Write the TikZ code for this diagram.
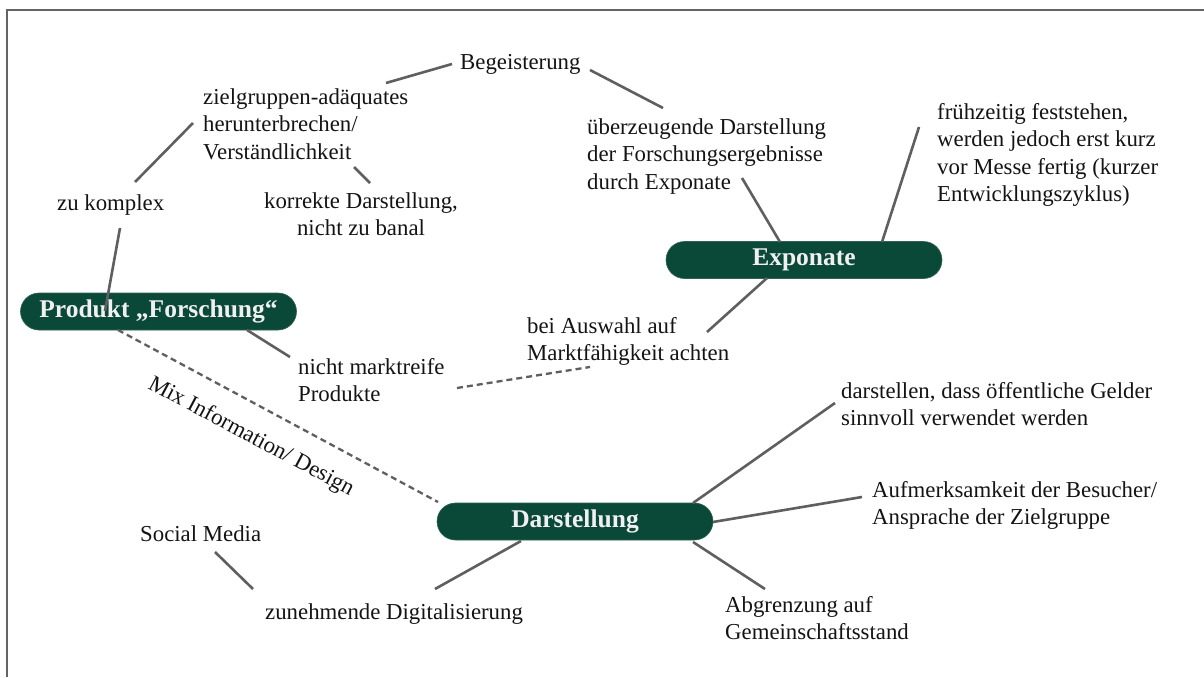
\documentclass[tikz,border=0pt]{standalone}
\usepackage{fontspec}
\setmainfont{Liberation Serif}
\definecolor{pillgreen}{RGB}{10,72,56}
\definecolor{linkgray}{RGB}{95,95,95}
\definecolor{framegray}{RGB}{100,100,100}
% fixed first-line height so that north-west anchors sit at a known distance above the first baseline
\newcommand{\fl}{\rule{0pt}{17pt}}
\begin{document}
\begin{tikzpicture}[x=1pt,y=-1pt,
  lbl/.style={inner sep=0pt, anchor=north west, align=left, text=black!92,
    font=\fontsize{22.8}{27.5}\selectfont},
  topic/.style={fill=pillgreen, draw=pillgreen!85!white, line width=0.6pt,
    rounded corners=18.5pt, minimum width=276pt, minimum height=37pt, inner sep=0pt,
    text=white!94!black, font=\bfseries\fontsize{25.5}{30}\selectfont},
  link/.style={draw=linkgray, line width=2.6pt},
  dlink/.style={draw=linkgray, line width=2.3pt, dash pattern=on 6pt off 4pt}]
\useasboundingbox (0,0) rectangle (1204,677);
\fill[white] (0,0) rectangle (1204,677);
% frame
\draw[framegray, line width=2.5pt] (7,677) -- (7,10) -- (1204,10);

% main topics
\node[topic] (prod) at (158.5,311.5) {Produkt „Forschung“};
\node[topic] (exp)  at (804,260) {Exponate};
\node[topic] (dst)  at (575,521.5) {Darstellung};

% labels
\node[lbl] (beg) at (460,52)  {\fl Begeisterung};
\node[lbl] (zg)  at (203,87)  {\fl zielgruppen-adäquates\\herunterbrechen/\\Verständlichkeit};
\node[lbl] (zk)  at (57,193)  {\fl zu komplex};
\node[lbl, anchor=north, align=center] (kd) at (361,191) {\fl korrekte Darstellung,\\nicht zu banal};
\node[lbl] (ue)  at (587,117) {\fl überzeugende Darstellung\\der Forschungsergebnisse\\durch Exponate};
\node[lbl] (fz)  at (937,102) {\fl frühzeitig feststehen,\\werden jedoch erst kurz\\vor Messe fertig (kurzer\\Entwicklungszyklus)};
\node[lbl] (ba)  at (527,316) {\fl bei Auswahl auf\\Marktfähigkeit achten};
\node[lbl] (nm)  at (298,357) {\fl nicht marktreife\\Produkte};
\node[lbl] (ds)  at (841,381) {\fl darstellen, dass öffentliche Gelder\\sinnvoll verwendet werden};
\node[lbl] (af)  at (872,480) {\fl Aufmerksamkeit der Besucher/\\Ansprache der Zielgruppe};
\node[lbl] (ab)  at (725,595) {\fl Abgrenzung auf\\Gemeinschaftsstand};
\node[lbl] (zd)  at (265,602) {\fl zunehmende Digitalisierung};
\node[lbl] (sm)  at (140,524) {\fl Social Media};
\node[lbl, anchor=center, rotate=-28] (mix) at (251,437) {Mix Information/ Design};

% solid connectors
\draw[link] ([shift={(63,35)}]zk.north west) -- ([shift={(-53.5,-0.5)}]prod.center);
\draw[link] ([shift={(78,-11)}]zk.north west) -- ([shift={(-10,36)}]zg.north west);
\draw[link] ([shift={(151,80)}]zg.north west) -- ([shift={(9,-8)}]kd.north);
\draw[link] ([shift={(183,-4)}]zg.north west) -- ([shift={(-8,12)}]beg.north west);
\draw[link] ([shift={(130,18)}]beg.north west) -- ([shift={(76,-9)}]ue.north west);
\draw[link] ([shift={(155,61)}]ue.north west) -- ([shift={(-24,-18)}]exp.center);
\draw[link] ([shift={(-18,25)}]fz.north west) -- ([shift={(78,-18)}]exp.center);
\draw[link] ([shift={(-37,18)}]exp.center) -- ([shift={(180,16)}]ba.north west);
\draw[link] ([shift={(88.5,18.5)}]prod.center) -- ([shift={(-8,0)}]nm.north west);
\draw[link] ([shift={(118,-18.5)}]dst.center) -- ([shift={(-6,22)}]ds.north west);
\draw[link] ([shift={(138,0.5)}]dst.center) -- ([shift={(-10,17)}]af.north west);
\draw[link] ([shift={(118,20.5)}]dst.center) -- ([shift={(40,-6)}]ab.north west);
\draw[link] ([shift={(-54,19.5)}]dst.center) -- ([shift={(170,-13)}]zd.north west);
\draw[link] ([shift={(75,28)}]sm.north west) -- ([shift={(-12,-13)}]zd.north west);

% dashed connectors
\draw[dlink] ([shift={(159,31)}]nm.north west) -- ([shift={(63,51)}]ba.north west);
\draw[dlink] ([shift={(-40.5,18.5)}]prod.center) -- ([shift={(-137,-19.5)}]dst.center);
\end{tikzpicture}
\end{document}
